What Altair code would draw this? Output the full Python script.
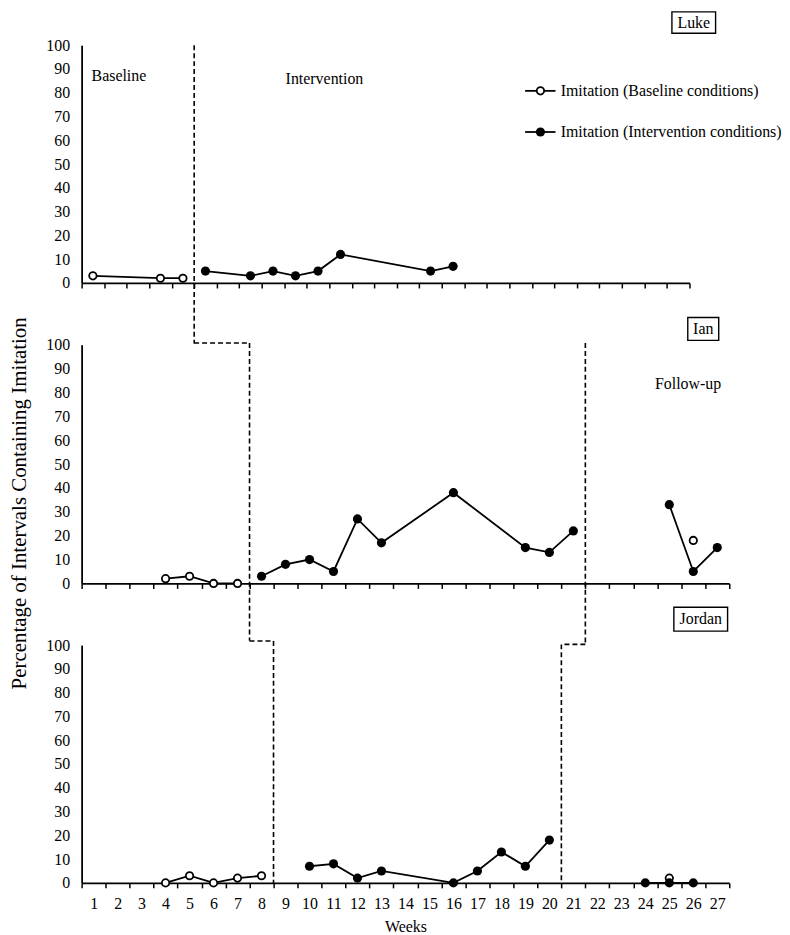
import altair as alt
import pandas as pd

FONT = "Liberation Serif"

# ---------------- data ----------------
week_labels = list(range(1, 28))
y_ticks = list(range(0, 101, 10))

luke_base_weeks = [1, 4, 5]
luke_base_vals = [3, 2, 2]
luke_int_weeks = [6, 8, 9, 10, 11, 12, 16, 17]
luke_int_vals = [5, 3, 5, 3, 5, 12, 5, 7]

ian_base_weeks = [4, 5, 6, 7]
ian_base_vals = [2, 3, 0, 0]
ian_int_weeks = [8, 9, 10, 11, 12, 13, 16, 19, 20, 21]
ian_int_vals = [3, 8, 10, 5, 27, 17, 38, 15, 13, 22]
ian_fu_int_weeks = [25, 26, 27]
ian_fu_int_vals = [33, 5, 15]
ian_fu_base_weeks = [26]
ian_fu_base_vals = [18]

jordan_base_weeks = [4, 5, 6, 7, 8]
jordan_base_vals = [0, 3, 0, 2, 3]
jordan_int_weeks = [10, 11, 12, 13, 16, 17, 18, 19, 20]
jordan_int_vals = [7, 8, 2, 5, 0, 5, 13, 7, 18]
jordan_fu_int_weeks = [24, 25, 26]
jordan_fu_int_vals = [0, 0, 0]
jordan_fu_base_weeks = [25]
jordan_fu_base_vals = [2]

legend_labels = ["Imitation (Baseline conditions)", "Imitation (Intervention conditions)"]
legend_kinds = ["open", "filled"]

# ---------------- layout / annotation positions (data units) ----------------
TOP_W, MID_W, BOT_W = 611, 651, 651
TOP_H, MID_H, BOT_H = 239, 240, 239
SPACING = 62

top_phase = [(5.5, 100, 5.5, -25.5)]
mid_phase = [(5.19, 100.7, 7.5, 100.7), (7.5, 100.7, 7.5, -24.0), (21.5, 100.7, 21.5, -25.3)]
bot_phase = [(7.5, 101.7, 8.5, 101.7), (8.5, 101.7, 8.5, 0), (21.5, 100.3, 20.5, 100.3), (20.5, 100.3, 20.5, 0)]

top_texts = [("Baseline", 0.94, 87), ("Intervention", 9.56, 85.6)]
mid_texts = [("Follow-up", 24.4, 83.5)]

top_box = ("Luke", 26.72, 105, 28.66, 114)
mid_box = ("Ian", 25.77, 101.8, 27.06, 111.4)
bot_box = ("Jordan", 25.19, 105.9, 27.43, 115.9)

legend_rows_y = [80.8, 63.5]
legend_line_x = (20.2, 21.55)
legend_marker_x = 20.88
legend_text_x = 21.78

FILLED_SIZE = 85
OPEN_SIZE = 55
LINE_W = 1.8


def make_df(segments):
    rows = []
    for sid, (weeks, vals, kind) in enumerate(segments):
        for w, v in zip(weeks, vals):
            rows.append({"week": w, "value": v, "seg": sid, "kind": kind})
    return pd.DataFrame(rows)


def panel(segments, width, height, phase, texts, box, show_labels, y_title, legend=False):
    band = width / 27.0
    xaxis_kwargs = dict(
        values=[k + 0.5 for k in range(0, 28)],
        grid=False, domainColor="black", domainWidth=1.8,
        tickColor="black", tickWidth=1.5, tickSize=5,
        labelFont=FONT, labelFontSize=16, labelColor="black",
        labelOverlap=False, labelFlush=False, labelBound=False,
        titleFont=FONT, titleFontSize=16, titleFontWeight="normal", titleColor="black",
    )
    if show_labels:
        xaxis_kwargs.update(labels=True, labelOffset=band / 2, labelPadding=8,
                            labelExpr="datum.value < 27 ? format(datum.value + 0.5, 'd') : ''",
                            titlePadding=7)
    else:
        xaxis_kwargs.update(labels=False)
    yaxis_kwargs = dict(
        values=y_ticks, grid=False, ticks=False, tickSize=0,
        domainColor="black", domainWidth=1.8,
        labelFont=FONT, labelFontSize=16, labelColor="black", labelPadding=12,
        labelOverlap=False,
        titleFont=FONT, titleFontSize=21, titleFontWeight="normal", titleColor="black",
    )
    if y_title:
        yaxis_kwargs.update(titleX=-52, titleY=159, titleAngle=270, titleBaseline="bottom")

    xs = alt.Scale(domain=[0.5, 27.5], nice=False, zero=False)
    ys = alt.Scale(domain=[0, 100], nice=False, zero=False)
    X = alt.X("week:Q", scale=xs, axis=alt.Axis(**xaxis_kwargs),
              title="Weeks" if show_labels else None)
    Y = alt.Y("value:Q", scale=ys, axis=alt.Axis(**yaxis_kwargs),
              title=y_title if y_title else None)

    df = make_df(segments)
    base = alt.Chart(df)
    lines = base.mark_line(color="black", strokeWidth=LINE_W, clip=False).encode(
        x=X, y=Y, detail="seg:N", order="week:Q")
    filled = base.transform_filter("datum.kind == 'filled'").mark_circle(
        size=FILLED_SIZE, color="black", opacity=1, clip=False).encode(x=X, y=Y)
    opened = base.transform_filter("datum.kind == 'open'").mark_point(
        shape="circle", size=OPEN_SIZE, filled=True, fill="white", stroke="black",
        strokeWidth=1.8, opacity=1, clip=False).encode(x=X, y=Y)

    ph = pd.DataFrame([{"week": a, "value": b, "week2": c, "value2": d} for a, b, c, d in phase])
    phase_layer = alt.Chart(ph).mark_rule(color="black", strokeWidth=1.6, strokeDash=[5, 3],
                                          clip=False).encode(
        x=X, y=Y, x2="week2:Q", y2="value2:Q")

    layers = [lines, phase_layer, opened, filled]

    if texts:
        tdf = pd.DataFrame([{"label": t, "week": x, "value": y} for t, x, y in texts])
        layers.append(alt.Chart(tdf).mark_text(align="left", baseline="middle", font=FONT,
                                               fontSize=16, color="black", clip=False).encode(
            x=X, y=Y, text="label:N"))

    name, bx1, by1, bx2, by2 = box
    bdf = pd.DataFrame([{"label": name, "week": bx1, "value": by1, "week2": bx2, "value2": by2}])
    cdf = pd.DataFrame([{"label": name, "week": (bx1 + bx2) / 2, "value": (by1 + by2) / 2}])
    layers.append(alt.Chart(bdf).mark_rect(fill="white", stroke="black", strokeWidth=1.4,
                                           clip=False).encode(
        x=X, y=Y, x2="week2:Q", y2="value2:Q"))
    layers.append(alt.Chart(cdf).mark_text(align="center", baseline="middle", font=FONT,
                                           fontSize=16, color="black", clip=False).encode(
        x=X, y=Y, text="label:N"))

    if legend:
        ldf = pd.DataFrame([{"label": lab, "kind": k, "value": y,
                             "week": legend_line_x[0], "week2": legend_line_x[1]}
                            for lab, k, y in zip(legend_labels, legend_kinds, legend_rows_y)])
        mdf = pd.DataFrame([{"kind": k, "value": y, "week": legend_marker_x}
                            for k, y in zip(legend_kinds, legend_rows_y)])
        tdf2 = pd.DataFrame([{"label": lab, "value": y, "week": legend_text_x}
                             for lab, y in zip(legend_labels, legend_rows_y)])
        layers.append(alt.Chart(ldf).mark_rule(color="black", strokeWidth=LINE_W, clip=False).encode(
            x=X, x2="week2:Q", y=Y))
        layers.append(alt.Chart(mdf).transform_filter("datum.kind == 'open'").mark_point(
            shape="circle", size=OPEN_SIZE, filled=True, fill="white", stroke="black",
            strokeWidth=1.8, opacity=1, clip=False).encode(x=X, y=Y))
        layers.append(alt.Chart(mdf).transform_filter("datum.kind == 'filled'").mark_circle(
            size=FILLED_SIZE, color="black", opacity=1, clip=False).encode(x=X, y=Y))
        layers.append(alt.Chart(tdf2).mark_text(align="left", baseline="middle", font=FONT,
                                                fontSize=16, color="black", clip=False).encode(
            x=X, y=Y, text="label:N"))

    return alt.layer(*layers).properties(width=width, height=height)


top = panel([(luke_base_weeks, luke_base_vals, "open"),
             (luke_int_weeks, luke_int_vals, "filled")],
            TOP_W, TOP_H, top_phase, top_texts, top_box, False, None, legend=True)
mid = panel([(ian_base_weeks, ian_base_vals, "open"),
             (ian_int_weeks, ian_int_vals, "filled"),
             (ian_fu_int_weeks, ian_fu_int_vals, "filled"),
             (ian_fu_base_weeks, ian_fu_base_vals, "open")],
            MID_W, MID_H, mid_phase, mid_texts, mid_box, False,
            "Percentage of Intervals Containing Imitation")
bot = panel([(jordan_base_weeks, jordan_base_vals, "open"),
             (jordan_int_weeks, jordan_int_vals, "filled"),
             (jordan_fu_int_weeks, jordan_fu_int_vals, "filled"),
             (jordan_fu_base_weeks, jordan_fu_base_vals, "open")],
            BOT_W, BOT_H, bot_phase, [], bot_box, True, None)

chart = alt.vconcat(top, mid, bot, spacing=SPACING, bounds="flush").properties(
    padding=0, background="white"
).configure(font=FONT).configure_view(strokeWidth=0)

chart.save("out.html", embed_options={"renderer": "svg", "actions": False})
